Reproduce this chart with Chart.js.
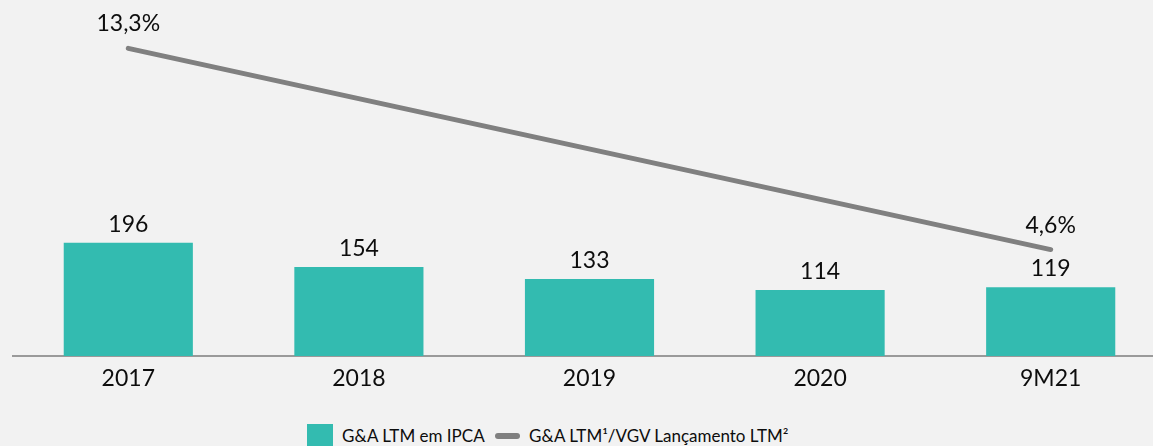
<!DOCTYPE html>
<html lang="pt-BR">
<head>
<meta charset="utf-8">
<title>G&amp;A LTM</title>
<script src="https://cdn.jsdelivr.net/npm/chart.js@4/dist/chart.umd.min.js"></script>
<style>
    html, body { margin: 0; padding: 0; background: #f2f2f2; overflow: hidden; width: 1153px; height: 446px; }
    #wrap { position: absolute; left: 0; top: 0; width: 1166px; height: 410px; }
    .legend { position: absolute; top: 424px; left: 0; width: 1153px; height: 22px; font-family: Lato, "Open Sans", sans-serif; font-size: 17px; color: #0d0d0d; }
    .legend .box { position: absolute; left: 307px; top: 0; width: 26px; height: 22px; background: #33bbb0; }
    .legend .dash { position: absolute; left: 495px; top: 9px; width: 25px; height: 6px; border-radius: 3px; background: #808080; }
    .legend .txt { position: absolute; top: 0; line-height: 24px; white-space: nowrap; }
</style>
</head>
<body>
<div id="wrap"><canvas id="gaChart" width="1166" height="410"></canvas></div>
<div class="legend">
    <span class="box"></span><span class="txt" style="left: 342px;">G&amp;A LTM em IPCA</span>
    <span class="dash"></span><span class="txt" style="left: 529px;">G&amp;A LTM¹/VGV Lançamento LTM²</span>
</div>
<script>
// ============================================
// G&A LTM em IPCA vs G&A / VGV Lançamento
// ============================================

const CATEGORIES = ['2017', '2018', '2019', '2020', '9M21'];
const GA_IPCA = [196, 154, 133, 114, 119];
const GA_VGV_PCT = [13.3, null, null, null, 4.6];

const COLORS = {
    bar: '#33bbb0',
    line: '#808080',
    text: '#0d0d0d',
    axis: '#9a9a9a',
};
const FONT = 'Lato, "Open Sans", sans-serif';

const fmtPct = v => v.toFixed(1).replace('.', ',') + '%';

// draws the values above bars (dataset 0) and line points (dataset 1)
const valueLabels = {
    id: 'valueLabels',
    afterDatasetsDraw(chart) {
        const ctx = chart.ctx;
        ctx.save();
        ctx.font = '23px ' + FONT;
        ctx.fillStyle = COLORS.text;
        ctx.textAlign = 'center';
        ctx.textBaseline = 'alphabetic';
        chart.getDatasetMeta(0).data.forEach((el, i) => {
            ctx.fillText(String(GA_IPCA[i]), el.x, el.y - 11);
        });
        chart.getDatasetMeta(1).data.forEach((el, i) => {
            if (GA_VGV_PCT[i] == null) return;
            ctx.fillText(fmtPct(GA_VGV_PCT[i]), el.x, el.y - 17);
        });
        ctx.restore();
    }
};

document.addEventListener('DOMContentLoaded', () => {
    renderChart();
});

function renderChart() {
    const ctx = document.getElementById('gaChart');
    if (!ctx) return;
    new Chart(ctx, {
        data: {
            labels: CATEGORIES,
            datasets: [
                {
                    type: 'bar', label: 'G&A LTM em IPCA', data: GA_IPCA,
                    yAxisID: 'y', backgroundColor: COLORS.bar, borderWidth: 0,
                    barPercentage: 0.56, categoryPercentage: 1, order: 1,
                },
                {
                    type: 'line', label: 'G&A LTM¹/VGV Lançamento LTM²', data: GA_VGV_PCT,
                    yAxisID: 'y2', borderColor: COLORS.line, borderWidth: 5, borderCapStyle: 'round',
                    pointRadius: 0, spanGaps: true, tension: 0, order: 0,
                },
            ]
        },
        options: {
            responsive: false, animation: false,
            layout: { padding: { top: 9, left: 13, right: 0, bottom: 8.4 } },
            plugins: { legend: { display: false }, tooltip: { enabled: false } },
            scales: {
                x: {
                    grid: { display: false, drawTicks: false },
                    border: { display: true, color: COLORS.axis, width: 2 },
                    ticks: { color: COLORS.text, padding: 9, font: { family: FONT, size: 23, lineHeight: 1.2 } },
                },
                y: { display: false, min: 0, max: 600 },
                y2: { display: false, min: 0, max: 15 },
            }
        },
        plugins: [valueLabels]
    });
}
</script>
</body>
</html>
